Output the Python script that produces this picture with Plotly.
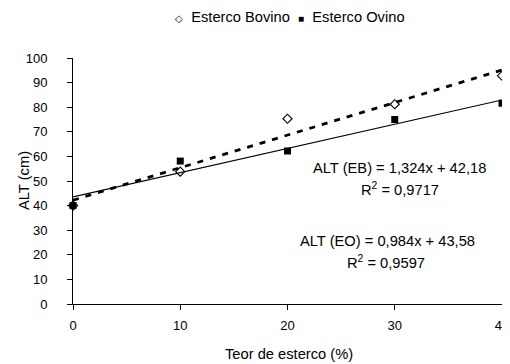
import plotly.graph_objects as go

teor = [0, 10, 20, 30, 40]
bovino = [40, 53.8, 75.3, 81.2, 92.8]
ovino = [40, 58.1, 62.2, 75, 81.6]
eb_coef = (1.324, 42.18)
eo_coef = (0.984, 43.58)
x_ticks = [0, 10, 20, 30, 40]
y_ticks = [0, 10, 20, 30, 40, 50, 60, 70, 80, 90, 100]

font = "Liberation Sans, Arial, sans-serif"
fig = go.Figure()

line_x = [teor[0], teor[-1]]
fig.add_trace(go.Scatter(x=line_x, y=[eb_coef[0] * v + eb_coef[1] for v in line_x],
                         mode="lines", line=dict(color="black", width=2.8, dash="6px,7px"),
                         showlegend=False, hoverinfo="skip", cliponaxis=False))
fig.add_trace(go.Scatter(x=line_x, y=[eo_coef[0] * v + eo_coef[1] for v in line_x],
                         mode="lines", line=dict(color="black", width=1.2),
                         showlegend=False, hoverinfo="skip", cliponaxis=False))
fig.add_trace(go.Scatter(x=teor, y=bovino, mode="markers", name="Esterco Bovino",
                         marker=dict(symbol="diamond-open", size=7, color="black",
                                     line=dict(width=1.1, color="black")),
                         showlegend=False, cliponaxis=False))
fig.add_trace(go.Scatter(x=teor, y=ovino, mode="markers", name="Esterco Ovino",
                         marker=dict(symbol="square", size=7, color="black"),
                         showlegend=False, cliponaxis=False))

# The page body has an 8px margin, so the figure starts at (8, 8) in the window.
# Plot area in window pixels: x 73..502, y 58..304.
def px(xp):
    return (xp - 73) / 429.0

def py(yp):
    return (304 - yp) / 246.0

def text(txt, xx, yy, size, angle=0):
    fig.add_annotation(x=px(xx), y=py(yy), xref="paper", yref="paper", text=txt,
                       showarrow=False, xanchor="center", yanchor="middle",
                       textangle=angle, font=dict(family=font, size=size, color="black"))

legend_text = ('<span style="font-size:10px">◇</span>&nbsp; Esterco Bovino &nbsp;'
               '<span style="font-size:10px">■</span>&nbsp; Esterco Ovino')
text(legend_text, 290, 17, 14.7)

ann = [
    ("ALT (EB) = 1,324x + 42,18", 399, 168),
    ("R<sup>2</sup> = 0,9717", 400, 189),
    ("ALT (EO) = 0,984x + 43,58", 387, 241),
    ("R<sup>2</sup> = 0,9597", 386, 262),
]
for txt, xx, yy in ann:
    text(txt, xx, yy, 14.7)

text("ALT (cm)", 24, 181, 14.7, angle=-90)
text("Teor de esterco (%)", 289, 354, 14.7)

fig.update_layout(
    width=502, height=356,
    margin=dict(l=65, r=8, t=50, b=60, autoexpand=False),
    paper_bgcolor="white", plot_bgcolor="white",
    font=dict(family=font, size=13, color="black"),
    showlegend=False,
    xaxis=dict(range=[0, 40], tickvals=x_ticks, showgrid=False, zeroline=False,
               showline=True, linecolor="black", linewidth=1, ticks="outside",
               ticklen=5, tickcolor="black", ticklabelstandoff=4),
    yaxis=dict(range=[0, 100], tickvals=y_ticks, showgrid=False, zeroline=False,
               showline=True, linecolor="black", linewidth=1, ticks="outside",
               ticklen=5, tickcolor="black", ticklabelstandoff=17),
)

fig.write_html("out.html")
